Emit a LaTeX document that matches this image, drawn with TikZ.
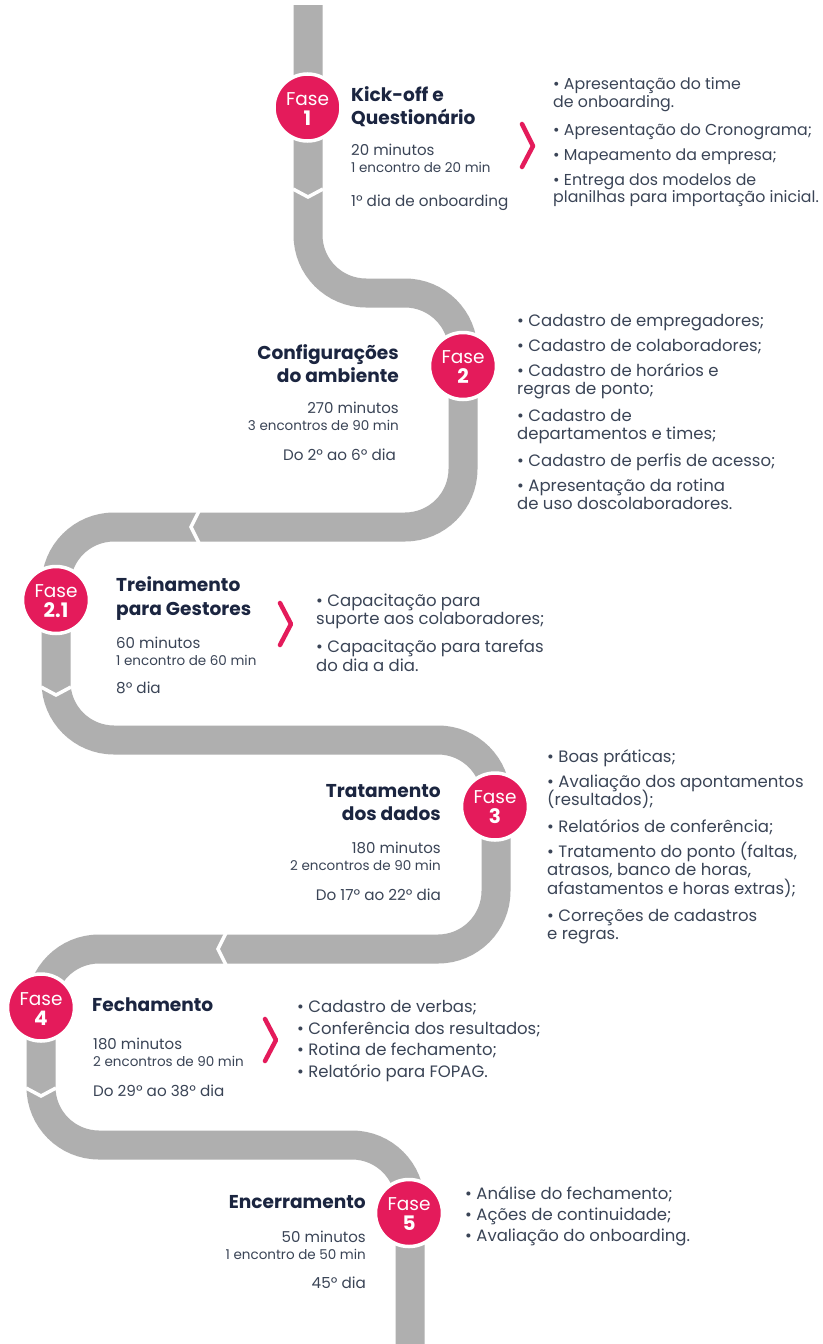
\documentclass[tikz,border=0pt]{standalone}
\usepackage{fontspec}
\setmainfont{Poppins}
\definecolor{roadgray}{RGB}{175,175,175}
\definecolor{crimson}{RGB}{228,27,91}
\definecolor{navy}{RGB}{27,37,64}
\definecolor{slate}{RGB}{58,68,86}
\tikzset{
 road/.style={draw=roadgray, line width=29pt, rounded corners=58pt},
 notch/.style={draw=white, line width=3.5pt},
 phase/.style={circle, fill=crimson, draw=white, line width=3.5pt, minimum size=67pt, inner sep=0pt},
 fasew/.style={text=white, font=\fontsize{18.5}{18.5}\selectfont, inner sep=0pt, anchor=base},
 fasen/.style={text=white, font=\bfseries\fontsize{20}{20}\selectfont, inner sep=0pt, anchor=base},
 ttl/.style={text=navy, font=\bfseries\fontsize{18.6}{18.6}\selectfont, inner sep=0pt},
 mins/.style={text=slate, font=\fontsize{15}{15}\selectfont, inner sep=0pt},
 enc/.style={text=slate, font=\fontsize{13.5}{13.5}\selectfont, inner sep=0pt},
 dayl/.style={text=slate, font=\fontsize{15.2}{15.2}\selectfont, inner sep=0pt},
 item/.style={text=slate, font=\fontsize{16.5}{16.5}\selectfont, inner sep=0pt, anchor=base west},
 itemone/.style={item, font=\fontsize{15.8}{15.8}\selectfont},
 pchev/.style={draw=crimson, line width=4.5pt, line cap=round, line join=round},
}
\begin{document}
\begin{tikzpicture}[x=1pt,y=-1pt]
\useasboundingbox (0,0) rectangle (822,1344);
\fill[white] (0,0) rectangle (822,1344);
% road
\draw[road] (308,5) -- (308,293) -- (463,293) -- (463,527) -- (56,527) -- (56,740) -- (496,740) -- (496,949) -- (41,949) -- (41,1145) -- (410,1145) -- (410,1344);
% notches
\draw[notch] (293,189) -- (308,197) -- (323,189);
\draw[notch] (199,511) -- (191,527) -- (199,543);
\draw[notch] (41,687) -- (56,695) -- (71,687);
\draw[notch] (226,933) -- (218,949) -- (226,965);
\draw[notch] (26,1088) -- (41,1096) -- (56,1088);
% pink chevrons
\draw[pchev] (522,124) -- (533,146) -- (522,167);
\draw[pchev] (280,603) -- (291,624) -- (280,645);
\draw[pchev] (265,1019) -- (276,1040) -- (265,1061);

% ---------- Fase 1
\node[phase] (p1) at (307.5,107.5) {};
\node[fasew] (p1a) at (307.5,105) {Fase};
\node[fasen] (p1b) at (307.5,125) {1};
\node[ttl, anchor=base west] (t1a) at (351,101.5) {Kick-off e};
\node[ttl, anchor=base west] (t1b) at (351,124) {Questionário};
\node[mins, anchor=base west] (m1) at (351,155) {20 minutos};
\node[enc, anchor=base west] (e1) at (351,172) {1 encontro de 20 min};
\node[dayl, anchor=base west] (d1) at (351,206.5) {1º dia de onboarding};
\node[itemone] (l1a) at (553,89) {• Apresentação do time};
\node[itemone] (l1b) at (553,107) {de onboarding.};
\node[itemone] (l1c) at (553,135) {• Apresentação do Cronograma;};
\node[itemone] (l1d) at (553,160) {• Mapeamento da empresa;};
\node[itemone] (l1e) at (553,185) {• Entrega dos modelos de};
\node[itemone] (l1f) at (553,202) {planilhas para importação inicial.};

% ---------- Fase 2
\node[phase] (p2) at (463,366) {};
\node[fasew] (p2a) at (463,363) {Fase};
\node[fasen] (p2b) at (463,383) {2};
\node[ttl, anchor=base east] (t2a) at (399,359) {Configurações};
\node[ttl, anchor=base east] (t2b) at (399,382) {do ambiente};
\node[mins, anchor=base east] (m2) at (399,413) {270 minutos};
\node[enc, anchor=base east] (e2) at (399,430) {3 encontros de 90 min};
\node[dayl, anchor=base east] (d2) at (396,460) {Do 2º ao 6º dia};
\node[item] (l2a) at (517,326) {• Cadastro de empregadores;};
\node[item] (l2b) at (517,351) {• Cadastro de colaboradores;};
\node[item] (l2c) at (517,376) {• Cadastro de horários e};
\node[item] (l2d) at (517,394) {regras de ponto;};
\node[item] (l2e) at (517,421) {• Cadastro de};
\node[item] (l2f) at (517,439) {departamentos e times;};
\node[item] (l2g) at (517,466) {• Cadastro de perfis de acesso;};
\node[item] (l2h) at (517,491) {• Apresentação da rotina};
\node[item] (l2i) at (517,509) {de uso doscolaboradores.};

% ---------- Fase 2.1
\node[phase] (p21) at (56,600) {};
\node[fasew] (p21a) at (56,597) {Fase};
\node[fasen] (p21b) at (56,617) {2.1};
\node[ttl, anchor=base west] (t21a) at (116,591.5) {Treinamento};
\node[ttl, anchor=base west] (t21b) at (116,615) {para Gestores};
\node[mins, anchor=base west] (m21) at (116,648) {60 minutos};
\node[enc, anchor=base west] (e21) at (116,665) {1 encontro de 60 min};
\node[dayl, anchor=base west] (d21) at (116,693) {8º dia};
\node[item] (l21a) at (316,606) {• Capacitação para};
\node[item] (l21b) at (316,624) {suporte aos colaboradores;};
\node[item] (l21c) at (316,652) {• Capacitação para tarefas};
\node[item] (l21d) at (316,671) {do dia a dia.};

% ---------- Fase 3
\node[phase] (p3) at (495,806.5) {};
\node[fasew] (p3a) at (495,803.5) {Fase};
\node[fasen] (p3b) at (495,823.5) {3};
\node[ttl, anchor=base east] (t3a) at (441,797) {Tratamento};
\node[ttl, anchor=base east] (t3b) at (441,820) {dos dados};
\node[mins, anchor=base east] (m3) at (441,853) {180 minutos};
\node[enc, anchor=base east] (e3) at (441,870) {2 encontros de 90 min};
\node[dayl, anchor=base east] (d3) at (441,900) {Do 17º ao 22º dia};
\node[item] (l3a) at (547,762) {• Boas práticas;};
\node[item] (l3b) at (547,787) {• Avaliação dos apontamentos};
\node[item] (l3c) at (547,805) {(resultados);};
\node[item] (l3d) at (547,832) {• Relatórios de conferência;};
\node[item] (l3e) at (547,857) {• Tratamento do ponto (faltas,};
\node[item] (l3f) at (547,875) {atrasos, banco de horas,};
\node[item] (l3g) at (547,894) {afastamentos e horas extras);};
\node[item] (l3h) at (547,921) {• Correções de cadastros};
\node[item] (l3i) at (547,939) {e regras.};

% ---------- Fase 4
\node[phase] (p4) at (41,1007.5) {};
\node[fasew] (p4a) at (41,1005) {Fase};
\node[fasen] (p4b) at (41,1025) {4};
\node[ttl, anchor=base west] (t4a) at (92,1011.5) {Fechamento};
\node[mins, anchor=base west] (m4) at (93,1049) {180 minutos};
\node[enc, anchor=base west] (e4) at (93,1066) {2 encontros de 90 min};
\node[dayl, anchor=base west] (d4) at (93,1096.5) {Do 29º ao 38º dia};
\node[item] (l4a) at (297,1012) {• Cadastro de verbas;};
\node[item] (l4b) at (297,1034) {• Conferência dos resultados;};
\node[item] (l4c) at (297,1055) {• Rotina de fechamento;};
\node[item] (l4d) at (297,1077) {• Relatório para FOPAG.};

% ---------- Fase 5
\node[phase] (p5) at (409,1213) {};
\node[fasew] (p5a) at (409,1210) {Fase};
\node[fasen] (p5b) at (409,1230) {5};
\node[ttl, anchor=base east] (t5a) at (366,1208) {Encerramento};
\node[mins, anchor=base east] (m5) at (366,1242) {50 minutos};
\node[enc, anchor=base east] (e5) at (366,1259) {1 encontro de 50 min};
\node[dayl, anchor=base east] (d5) at (366,1288) {45º dia};
\node[item] (l5a) at (465,1199) {• Análise do fechamento;};
\node[item] (l5b) at (465,1220) {• Ações de continuidade;};
\node[item] (l5c) at (465,1241) {• Avaliação do onboarding.};
\end{tikzpicture}
\end{document}
